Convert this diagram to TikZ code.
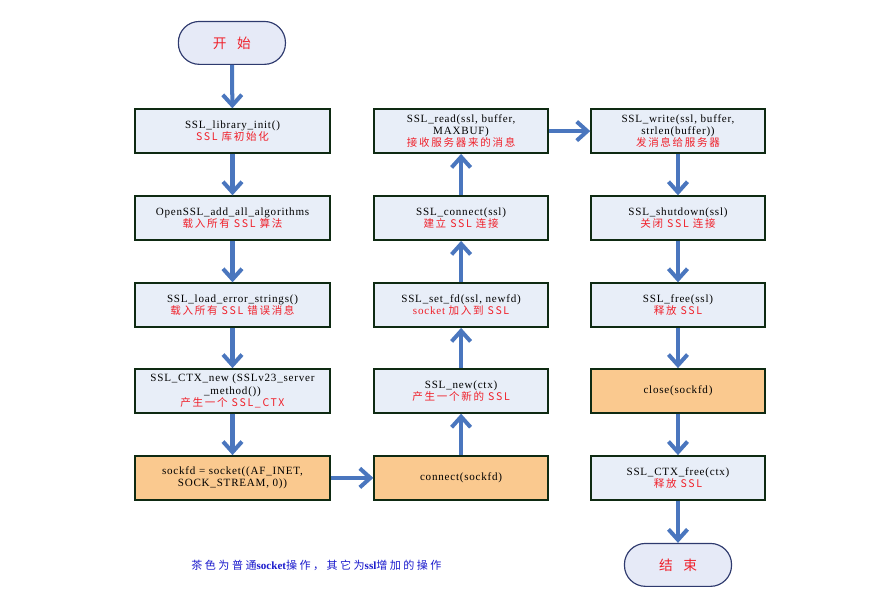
\documentclass[tikz,border=0pt]{standalone}
\usepackage{fontspec}
\setmainfont{Liberation Serif}[LetterSpace=7]
\newfontfamily\cjk{Noto Sans CJK SC}[LetterSpace=16]
\newfontfamily\cjkleg{Noto Sans CJK SC}[LetterSpace=22]
\newfontfamily\legbold{Liberation Serif}[BoldFont=Liberation Serif Bold]
\usepackage{xcolor}
\usetikzlibrary{arrows.meta}

\definecolor{flowblue}{HTML}{4A76BE}
\definecolor{boxfill}{HTML}{E8EEF8}
\definecolor{sockfill}{HTML}{FAC98F}
\definecolor{boxline}{HTML}{0E2A12}
\definecolor{pillfill}{HTML}{E6EAF7}
\definecolor{pillline}{HTML}{2E3A6E}
\definecolor{notered}{HTML}{F0202A}
\definecolor{legendblue}{HTML}{1A1ACC}

\tikzset{
  sslbox/.style={draw=boxline, line width=1.4pt, fill=boxfill, minimum height=1.47cm,
    align=center, font=\fontsize{10.5}{11.5}\selectfont, inner sep=1pt},
  sockbox/.style={sslbox, fill=sockfill},
  wide/.style={minimum width=6.5cm},
  narrow/.style={minimum width=5.8cm},
  pill/.style={draw=pillline, line width=1.1pt, fill=pillfill, rounded corners=0.7cm,
    minimum width=3.57cm, minimum height=1.43cm, font=\cjk\fontsize{13}{14}\selectfont, text=notered},
  flow/.style={flowblue, line width=3.8pt, -{Straight Barb[length=10pt,width=18pt]}}
}
\newcommand{\cn}[1]{{\color{notered}\cjk\fontsize{10}{11.5}\selectfont #1}}

\begin{document}
\begin{tikzpicture}
        \useasboundingbox (0,0) rectangle (29.667,-20.067);
        % left column
        \node[pill] (start) at (7.73,-1.43) {开\ \ 始};
        \node[sslbox,wide] (init) at (7.75,-4.37) {SSL\_library\_init()\\\cn{SSL 库初始化}};
        \node[sslbox,wide] (algo) at (7.75,-7.27) {OpenSSL\_add\_all\_algorithms\\\cn{载入所有 SSL 算法}};
        \node[sslbox,wide] (errs) at (7.75,-10.17) {SSL\_load\_error\_strings()\\\cn{载入所有 SSL 错误消息}};
        \node[sslbox,wide] (ctx) at (7.75,-13.03) {SSL\_CTX\_new (SSLv23\_server\\\_method())\\\cn{产生一个 SSL\_CTX}};
        \node[sockbox,wide] (sock) at (7.75,-15.93) {sockfd = socket((AF\_INET,\\SOCK\_STREAM, 0))};
        % middle column
        \node[sockbox,narrow] (conn) at (15.37,-15.93) {connect(sockfd)};
        \node[sslbox,narrow] (new) at (15.37,-13.03) {SSL\_new(ctx)\\\cn{产生一个新的 SSL}};
        \node[sslbox,narrow] (setfd) at (15.37,-10.17) {SSL\_set\_fd(ssl, newfd)\\{\color{notered}socket} \cn{加入到 SSL}};
        \node[sslbox,narrow] (sconn) at (15.37,-7.27) {SSL\_connect(ssl)\\\cn{建立 SSL 连接}};
        \node[sslbox,narrow] (read) at (15.37,-4.37) {SSL\_read(ssl, buffer,\\MAXBUF)\\\cn{接收服务器来的消息}};
        % right column
        \node[sslbox,narrow] (write) at (22.6,-4.37) {SSL\_write(ssl, buffer,\\strlen(buffer))\\\cn{发消息给服务器}};
        \node[sslbox,narrow] (shut) at (22.6,-7.27) {SSL\_shutdown(ssl)\\\cn{关闭 SSL 连接}};
        \node[sslbox,narrow] (free) at (22.6,-10.17) {SSL\_free(ssl)\\\cn{释放 SSL}};
        \node[sockbox,narrow] (close) at (22.6,-13.03) {close(sockfd)};
        \node[sslbox,narrow] (ctxfree) at (22.6,-15.93) {SSL\_CTX\_free(ctx)\\\cn{释放 SSL}};
        \node[pill] (stop) at (22.6,-18.83) {结\ \ 束};
        % legend
        \node[text=legendblue, font=\cjkleg\fontsize{10.5}{12}\selectfont] (legend) at (10.55,-18.83)
          {茶色为普通{\legbold\bfseries socket}操作，其它为{\legbold\bfseries ssl}增加的操作};
        % connectors
        \draw[flow] (start) -- (init);
        \draw[flow] (init) -- (algo);
        \draw[flow] (algo) -- (errs);
        \draw[flow] (errs) -- (ctx);
        \draw[flow] (ctx) -- (sock);
        \draw[flow] (sock) -- (conn);
        \draw[flow] (conn) -- (new);
        \draw[flow] (new) -- (setfd);
        \draw[flow] (setfd) -- (sconn);
        \draw[flow] (sconn) -- (read);
        \draw[flow] (read) -- (write);
        \draw[flow] (write) -- (shut);
        \draw[flow] (shut) -- (free);
        \draw[flow] (free) -- (close);
        \draw[flow] (close) -- (ctxfree);
        \draw[flow] (ctxfree) -- (stop);
    \end{tikzpicture}
\end{document}
